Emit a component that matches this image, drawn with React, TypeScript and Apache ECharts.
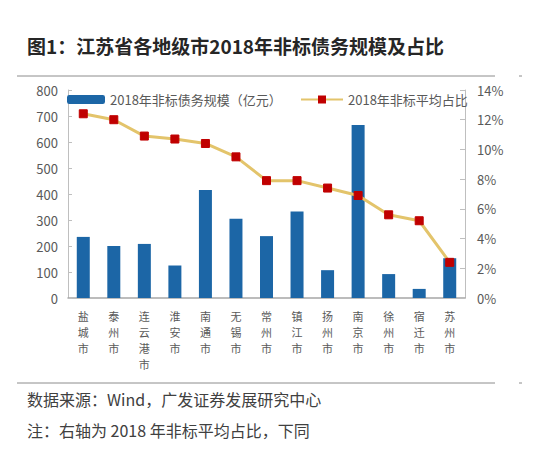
import React, { useEffect, useRef } from "react";
import * as echarts from "echarts";

const cities = ["盐城市", "泰州市", "连云港市", "淮安市", "南通市", "无锡市", "常州市", "镇江市", "扬州市", "南京市", "徐州市", "宿迁市", "苏州市"];
const debtScale = [235, 200, 208, 125, 415, 305, 238, 333, 107, 665, 92, 35, 153];
const avgShare = [12.4, 12.0, 10.9, 10.7, 10.4, 9.5, 7.9, 7.9, 7.4, 6.9, 5.6, 5.2, 2.4];
const barName = "2018年非标债务规模（亿元）";
const lineName = "2018年非标平均占比";
const titleText = "图1：江苏省各地级市2018年非标债务规模及占比";
const sourceText = "数据来源：Wind，广发证券发展研究中心";
const noteText = "注：右轴为 2018 年非标平均占比，下同";

const FONT = "'Noto Sans CJK SC', 'Noto Sans', sans-serif";

export default function App() {
  const ref = useRef<HTMLDivElement>(null);
  useEffect(() => {
    if (!ref.current) return;
    const chart = echarts.init(ref.current, null, { renderer: "svg" });
    chart.setOption({
      animation: false,
      backgroundColor: "#ffffff",
      textStyle: { fontFamily: FONT },
      grid: { left: 68, right: 89, top: 90, bottom: 163 },
      legend: [
        {
          left: 62,
          top: 88,
          itemWidth: 38,
          itemHeight: 9,
          itemGap: 10,
          data: [barName],
          textStyle: { color: "#595959", fontSize: 13, fontFamily: FONT },
        },
        {
          left: 295,
          top: 88,
          itemWidth: 42,
          itemHeight: 10,
          data: [lineName],
          textStyle: { color: "#595959", fontSize: 13, fontFamily: FONT },
        },
      ],
      xAxis: {
        type: "category",
        data: cities,
        axisLine: { show: true, lineStyle: { color: "#a6a6a6", width: 1.5 } },
        axisTick: { show: false },
        axisLabel: {
          interval: 0,
          margin: 10,
          color: "#595959",
          fontSize: 11,
          lineHeight: 16,
          fontFamily: FONT,
          formatter: (v: string) => v.split("").join("\n"),
        },
      },
      yAxis: [
        {
          type: "value",
          min: 0,
          max: 800,
          interval: 100,
          splitLine: { show: false },
          axisLine: { show: true, lineStyle: { color: "#bfbfbf" } },
          axisTick: { show: true, inside: true, length: 4, lineStyle: { color: "#bfbfbf" } },
          axisLabel: { color: "#595959", fontSize: 13, margin: 10, fontFamily: FONT },
        },
        {
          type: "value",
          min: 0,
          max: 14,
          interval: 2,
          position: "right",
          splitLine: { show: false },
          axisLine: { show: true, lineStyle: { color: "#bfbfbf" } },
          axisTick: { show: true, inside: true, length: 5, lineStyle: { color: "#bfbfbf" } },
          axisLabel: { color: "#595959", fontSize: 13, margin: 12, fontFamily: FONT, formatter: (v: number) => v + "%" },
        },
      ],
      series: [
        {
          name: barName,
          type: "bar",
          data: debtScale,
          barWidth: 13,
          itemStyle: { color: "#1C66A6" },
        },
        {
          name: lineName,
          type: "line",
          yAxisIndex: 1,
          data: avgShare,
          symbol: "rect",
          symbolSize: 8,
          lineStyle: { color: "#E3C46B", width: 3 },
          itemStyle: { color: "#C00000", borderColor: "#C00000" },
        },
      ],
      graphic: [
        {
          type: "text",
          left: 27,
          top: 36,
          style: { text: titleText, fill: "#262626", font: `bold 19px ${FONT}` },
        },
        { type: "line", shape: { x1: 17, y1: 76, x2: 495, y2: 76 }, style: { stroke: "#8c8c8c", lineWidth: 1 } },
        { type: "line", shape: { x1: 519, y1: 76, x2: 522, y2: 76 }, style: { stroke: "#8c8c8c", lineWidth: 1 } },
        { type: "line", shape: { x1: 17, y1: 383, x2: 495, y2: 383 }, style: { stroke: "#8c8c8c", lineWidth: 1 } },
        { type: "line", shape: { x1: 519, y1: 383, x2: 522, y2: 383 }, style: { stroke: "#8c8c8c", lineWidth: 1 } },
        {
          type: "text",
          left: 27,
          top: 391,
          style: { text: sourceText, fill: "#404040", font: `16px ${FONT}` },
        },
        {
          type: "text",
          left: 27,
          top: 422,
          style: { text: noteText, fill: "#404040", font: `16px ${FONT}` },
        },
      ],
    });
    return () => chart.dispose();
  }, []);
  return <div ref={ref} style={{ width: 554, height: 461, position: "absolute", left: 0, top: 0 }} />;
}
